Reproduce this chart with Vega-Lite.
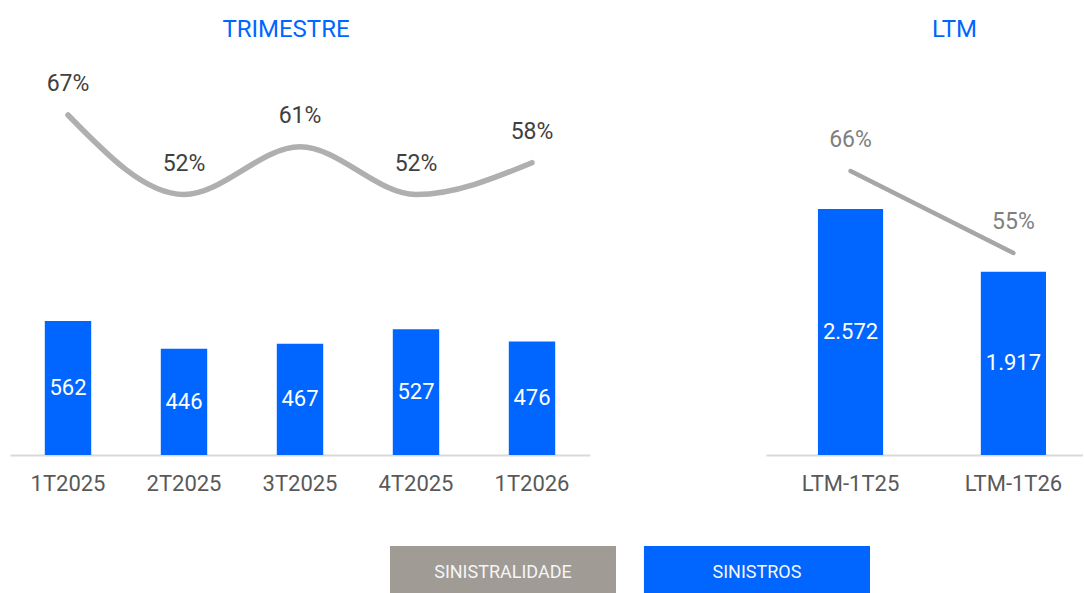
{
  "$schema": "https://vega.github.io/schema/vega-lite/v6.json",
  "padding": {"left": 10, "top": 18, "right": 0, "bottom": 0},
  "background": "white",
  "config": {
    "locale": {"number": {"decimal": ",", "thousands": ".", "grouping": [3], "currency": ["R$", ""]}},
    "view": {"stroke": null},
    "font": "Roboto",
    "axisX": {
      "domainColor": "#D9D9D9", "domainWidth": 2, "ticks": false, "tickSize": 0,
      "labelFontSize": 22, "labelColor": "#595959", "labelFont": "Roboto",
      "labelPadding": 18, "labelAngle": 0, "title": null, "grid": false
    },
    "title": {"font": "Roboto", "fontSize": 24, "fontWeight": "normal", "color": "#0066FF", "anchor": "middle", "offset": 18}
  },
  "datasets": {
    "trimestre": [
      {"periodo": "1T2025", "sinistros": 562, "sinistralidade": 0.67},
      {"periodo": "2T2025", "sinistros": 446, "sinistralidade": 0.52},
      {"periodo": "3T2025", "sinistros": 467, "sinistralidade": 0.61},
      {"periodo": "4T2025", "sinistros": 527, "sinistralidade": 0.52},
      {"periodo": "1T2026", "sinistros": 476, "sinistralidade": 0.58}
    ],
    "ltm": [
      {"periodo": "LTM-1T25", "sinistros": 2572, "sinistralidade": 0.66},
      {"periodo": "LTM-1T26", "sinistros": 1917, "sinistralidade": 0.55}
    ],
    "legenda": [
      {"serie": "SINISTRALIDADE"},
      {"serie": "SINISTROS"}
    ]
  },
  "spacing": 52,
  "vconcat": [
    {
      "spacing": 176,
      "hconcat": [
        {
          "title": {"text": "TRIMESTRE", "dx": -14},
          "width": 580,
          "height": 395,
          "data": {"name": "trimestre"},
          "encoding": {
            "x": {"field": "periodo", "type": "nominal", "sort": null,
                  "scale": {"paddingInner": 0.6, "paddingOuter": 0.3}}
          },
          "layer": [
            {
              "mark": {"type": "bar", "color": "#0066FF"},
              "encoding": {
                "y": {"field": "sinistros", "type": "quantitative", "axis": null,
                      "scale": {"domain": [0, 1657], "nice": false}}
              }
            },
            {
              "mark": {"type": "text", "color": "#FFFFFF", "fontSize": 22, "baseline": "middle", "align": "center"},
              "encoding": {
                "y": {"field": "sinistros", "type": "quantitative", "axis": null,
                      "scale": {"domain": [0, 3314], "nice": false}},
                "text": {"field": "sinistros", "type": "quantitative", "format": ",.0f"}
              }
            },
            {
              "mark": {"type": "line", "interpolate": "monotone", "strokeWidth": 5.5, "strokeCap": "round", "color": "#AFAFAF"},
              "encoding": {
                "y": {"field": "sinistralidade", "type": "quantitative", "axis": null,
                      "scale": {"domain": [0.0285, 0.7738], "nice": false, "zero": false}}
              }
            },
            {
              "mark": {"type": "text", "color": "#404040", "fontSize": 23, "baseline": "middle", "align": "center", "dy": -31},
              "encoding": {
                "y": {"field": "sinistralidade", "type": "quantitative", "axis": null,
                      "scale": {"domain": [0.0285, 0.7738], "nice": false, "zero": false}},
                "text": {"field": "sinistralidade", "type": "quantitative", "format": ".0%"}
              }
            }
          ],
          "resolve": {"scale": {"y": "independent"}}
        },
        {
          "title": {"text": "LTM", "dx": 30},
          "width": 317,
          "height": 395,
          "data": {"name": "ltm"},
          "encoding": {
            "x": {"field": "periodo", "type": "nominal", "sort": null,
                  "scale": {"paddingInner": 0.6, "paddingOuter": 0.273, "align": 0.584}}
          },
          "layer": [
            {
              "mark": {"type": "bar", "color": "#0066FF"},
              "encoding": {
                "y": {"field": "sinistros", "type": "quantitative", "axis": null,
                      "scale": {"domain": [0, 4130], "nice": false}}
              }
            },
            {
              "mark": {"type": "text", "color": "#FFFFFF", "fontSize": 22, "baseline": "middle", "align": "center"},
              "encoding": {
                "y": {"field": "sinistros", "type": "quantitative", "axis": null,
                      "scale": {"domain": [0, 8260], "nice": false}},
                "text": {"field": "sinistros", "type": "quantitative", "format": ",.0f"}
              }
            },
            {
              "mark": {"type": "line", "strokeWidth": 4.5, "strokeCap": "round", "color": "#A6A6A6"},
              "encoding": {
                "y": {"field": "sinistralidade", "type": "quantitative", "axis": null,
                      "scale": {"domain": [0.2788, 0.809], "nice": false, "zero": false}}
              }
            },
            {
              "mark": {"type": "text", "color": "#7F7F7F", "fontSize": 23, "baseline": "middle", "align": "center", "dy": -31},
              "encoding": {
                "y": {"field": "sinistralidade", "type": "quantitative", "axis": null,
                      "scale": {"domain": [0.2788, 0.809], "nice": false, "zero": false}},
                "text": {"field": "sinistralidade", "type": "quantitative", "format": ".0%"}
              }
            }
          ],
          "resolve": {"scale": {"y": "independent"}}
        }
      ]
    },
    {
      "width": 860,
      "height": 47,
      "data": {"name": "legenda"},
      "encoding": {
        "x": {"field": "serie", "type": "nominal", "sort": null, "axis": null,
              "scale": {"paddingInner": 0.11, "paddingOuter": 0.748, "align": 1}}
      },
      "layer": [
        {
          "mark": {"type": "bar"},
          "encoding": {
            "color": {"field": "serie", "type": "nominal", "legend": null,
                      "scale": {"domain": ["SINISTRALIDADE", "SINISTROS"], "range": ["#A09B95", "#0066FF"]}}
          }
        },
        {
          "mark": {"type": "text", "color": "#F5F5F5", "fontSize": 18, "baseline": "middle", "align": "center", "dy": 3},
          "encoding": {
            "text": {"field": "serie", "type": "nominal"}
          }
        }
      ]
    }
  ]
}
